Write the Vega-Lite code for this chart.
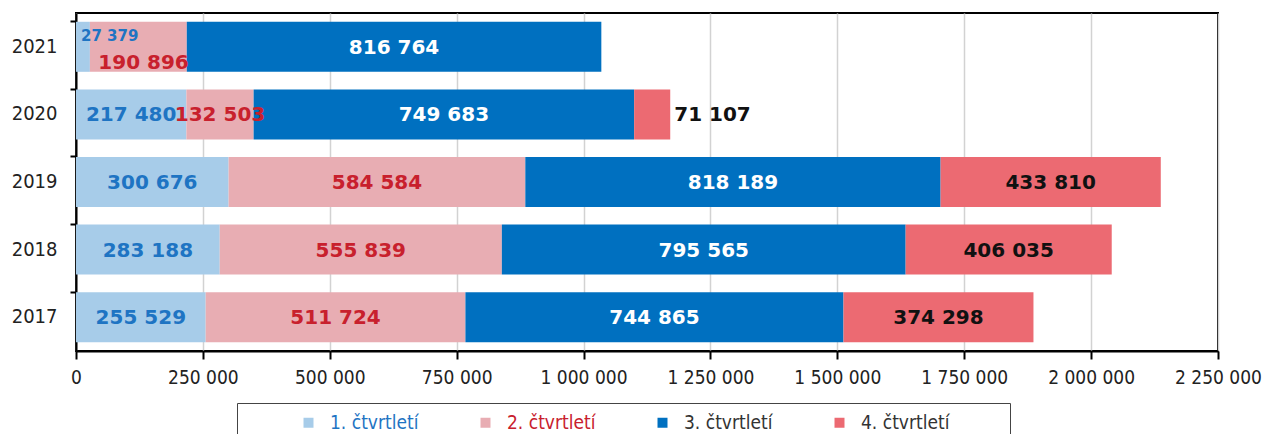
{
  "$schema": "https://vega.github.io/schema/vega-lite/v6.json",
  "autosize": {"type": "none"},
  "width": 1142,
  "height": 338,
  "padding": {"left": 76, "top": 13, "right": 51, "bottom": 83},
  "background": "white",
  "config": {
    "view": {"stroke": "black", "strokeWidth": 2},
    "locale": {"number": {"decimal": ",", "thousands": "\u00a0", "grouping": [3], "currency": ["", ""]}}
  },
  "data": {
    "values": [
      {"year": "2017", "q": "1. čtvrtletí", "value": 255529},
      {"year": "2017", "q": "2. čtvrtletí", "value": 511724},
      {"year": "2017", "q": "3. čtvrtletí", "value": 744865},
      {"year": "2017", "q": "4. čtvrtletí", "value": 374298},
      {"year": "2018", "q": "1. čtvrtletí", "value": 283188},
      {"year": "2018", "q": "2. čtvrtletí", "value": 555839},
      {"year": "2018", "q": "3. čtvrtletí", "value": 795565},
      {"year": "2018", "q": "4. čtvrtletí", "value": 406035},
      {"year": "2019", "q": "1. čtvrtletí", "value": 300676},
      {"year": "2019", "q": "2. čtvrtletí", "value": 584584},
      {"year": "2019", "q": "3. čtvrtletí", "value": 818189},
      {"year": "2019", "q": "4. čtvrtletí", "value": 433810},
      {"year": "2020", "q": "1. čtvrtletí", "value": 217480},
      {"year": "2020", "q": "2. čtvrtletí", "value": 132503},
      {"year": "2020", "q": "3. čtvrtletí", "value": 749683},
      {"year": "2020", "q": "4. čtvrtletí", "value": 71107},
      {"year": "2021", "q": "1. čtvrtletí", "value": 27379},
      {"year": "2021", "q": "2. čtvrtletí", "value": 190896},
      {"year": "2021", "q": "3. čtvrtletí", "value": 816764}
    ]
  },
  "encoding": {
    "y": {
      "field": "year", "type": "nominal", "sort": "descending",
      "scale": {"paddingInner": 0.26, "paddingOuter": 0.13},
      "axis": {
        "title": null, "labelFont": "DejaVu Sans Condensed", "labelFontSize": 20,
        "labelColor": "#222", "domainColor": "black", "domainWidth": 2,
        "tickColor": "black", "tickWidth": 2, "tickSize": 6, "bandPosition": 0,
        "labelPadding": 13, "grid": false
      }
    },
    "x": {
      "field": "value", "type": "quantitative", "stack": "zero",
      "scale": {"domain": [0, 2250000], "nice": false},
      "axis": {
        "title": null, "values": [0, 250000, 500000, 750000, 1000000, 1250000, 1500000, 1750000, 2000000, 2250000],
        "labelExpr": "replace(format(datum.value, ',d'), /[^0-9]/g, '\u00a0')",
        "labelFont": "DejaVu Sans Condensed", "labelFontSize": 19, "labelColor": "#222",
        "labelFlush": false, "labelOverlap": false, "labelPadding": 9,
        "domainColor": "black", "domainWidth": 2, "tickColor": "black", "tickWidth": 2, "tickSize": 8,
        "grid": true, "gridColor": "#d2d2d2", "gridWidth": 1.5
      }
    }
  },
  "layer": [
    {
      "mark": {"type": "bar"},
      "encoding": {
        "color": {
          "field": "q", "type": "nominal",
          "scale": {"domain": ["1. čtvrtletí", "2. čtvrtletí", "3. čtvrtletí", "4. čtvrtletí"], "range": ["#a7cce9", "#e8adb3", "#0070c0", "#ec6a72"]},
          "legend": {
            "title": null, "orient": "none", "legendX": 161, "legendY": 390,
            "direction": "horizontal", "columns": 4, "columnPadding": 5,
            "padding": 10, "strokeColor": "#444", "fillColor": "white",
            "symbolType": "square", "symbolSize": 100, "symbolStrokeWidth": 0, "symbolOffset": 52,
            "labelFont": "DejaVu Sans Condensed", "labelFontSize": 19, "labelOffset": 12, "labelLimit": 300,
            "labelExpr": "datum.value == '4. čtvrtletí' ? datum.label + '\u2800\u2800\u2800\u2800' : datum.label",
            "encode": {
              "labels": {"update": {"fill": {"signal": "datum.value == '1. čtvrtletí' ? '#1e74c3' : datum.value == '2. čtvrtletí' ? '#c8202d' : '#333333'"}}}
            }
          }
        },
        "order": {"field": "q"}
      }
    },
    {
      "mark": {"type": "text", "font": "DejaVu Sans", "fontWeight": "bold", "fontSize": 20, "baseline": "middle", "dy": 1},
      "encoding": {
        "x": {"field": "value", "type": "quantitative", "stack": "zero", "bandPosition": 0.5},
        "order": {"field": "q"},
        "text": {
          "condition": {"test": "(datum.year == '2021' && (datum.q == '1. čtvrtletí' || datum.q == '2. čtvrtletí')) || (datum.year == '2020' && datum.q == '4. čtvrtletí')", "value": ""},
          "field": "value", "type": "quantitative", "format": ","
        },
        "fill": {
          "field": "q", "type": "nominal", "legend": null,
          "scale": {"domain": ["1. čtvrtletí", "2. čtvrtletí", "3. čtvrtletí", "4. čtvrtletí"], "range": ["#1e74c3", "#c8202d", "#ffffff", "#111111"]}
        }
      }
    },
    {
      "mark": {"type": "text", "font": "DejaVu Sans", "fontWeight": "bold", "fontSize": 20, "baseline": "middle", "align": "right", "dx": 2, "dy": 16, "fill": "#c8202d"},
      "encoding": {
        "x": {"field": "value", "type": "quantitative", "stack": "zero", "bandPosition": 1},
        "order": {"field": "q"},
        "text": {
          "condition": {"test": "datum.year == '2021' && datum.q == '2. čtvrtletí'", "field": "value", "type": "quantitative", "format": ","},
          "value": ""
        }
      }
    },
    {
      "mark": {"type": "text", "font": "DejaVu Sans", "fontWeight": "bold", "fontSize": 20, "baseline": "middle", "align": "left", "dx": 4, "dy": 1, "fill": "#111111"},
      "encoding": {
        "x": {"field": "value", "type": "quantitative", "stack": "zero", "bandPosition": 1},
        "order": {"field": "q"},
        "text": {
          "condition": {"test": "datum.year == '2020' && datum.q == '4. čtvrtletí'", "field": "value", "type": "quantitative", "format": ","},
          "value": ""
        }
      }
    },
    {
      "mark": {"type": "text", "font": "DejaVu Sans", "fontWeight": "bold", "fontSize": 15, "baseline": "middle", "align": "left", "dx": 5, "dy": -11, "fill": "#1e74c3"},
      "encoding": {
        "x": {"field": "value", "type": "quantitative", "stack": "zero", "bandPosition": 0},
        "order": {"field": "q"},
        "text": {
          "condition": {"test": "datum.year == '2021' && datum.q == '1. čtvrtletí'", "field": "value", "type": "quantitative", "format": ","},
          "value": ""
        }
      }
    }
  ]
}
